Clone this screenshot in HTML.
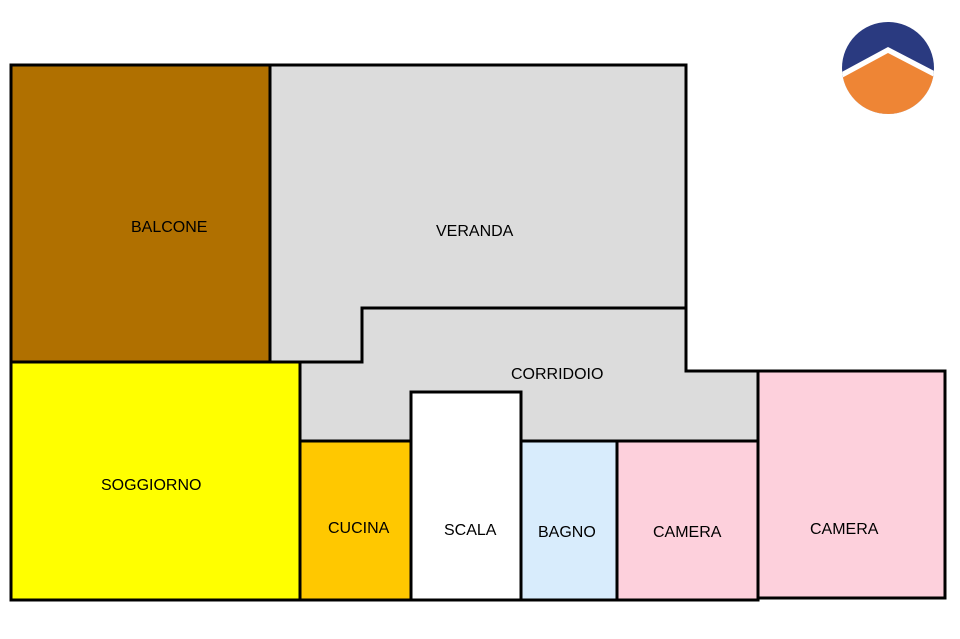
<!DOCTYPE html>
<html><head><style>body{margin:0;background:#fff}svg{display:block}text{font-family:"Liberation Sans",sans-serif;font-size:16px;fill:#000}</style></head><body>
<svg width="960" height="639" viewBox="0 0 960 639" xmlns="http://www.w3.org/2000/svg">
<defs><clipPath id="c"><circle cx="888" cy="68" r="46"/></clipPath></defs>
<g stroke="#000" stroke-width="3">
<polygon points="300,362 362,362 362,308 686,308 686,371 758,371 758,441 300,441" fill="#dcdcdc"/>
<polygon points="270,65 686,65 686,308 362,308 362,362 270,362" fill="#dcdcdc"/>
<rect x="11" y="65" width="259" height="297" fill="#b07000"/>
<rect x="11" y="362" width="289" height="238" fill="#ffff00"/>
<rect x="300" y="441" width="111" height="159" fill="#ffc800"/>
<rect x="411" y="392" width="110" height="208" fill="#fff"/>
<rect x="521" y="441" width="96" height="159" fill="#d8ecfc"/>
<rect x="617" y="441" width="141" height="159" fill="#fdd0dc"/>
<rect x="758" y="371" width="187" height="227" fill="#fdd0dc"/>
</g>
<text x="131" y="232">BALCONE</text>
<text x="436" y="236">VERANDA</text>
<text x="511" y="379">CORRIDOIO</text>
<text x="101" y="490">SOGGIORNO</text>
<text x="328" y="533">CUCINA</text>
<text x="444" y="535">SCALA</text>
<text x="538" y="537">BAGNO</text>
<text x="653" y="537">CAMERA</text>
<text x="810" y="534">CAMERA</text>
<g clip-path="url(#c)">
<rect x="840" y="20" width="100" height="100" fill="#2a3a80"/>
<polygon points="838,74 888,47 940,74 940,120 838,120" fill="#fff"/>
<polygon points="838,80 888,53 940,80 940,120 838,120" fill="#ee8535"/>
</g>
</svg>
</body></html>
